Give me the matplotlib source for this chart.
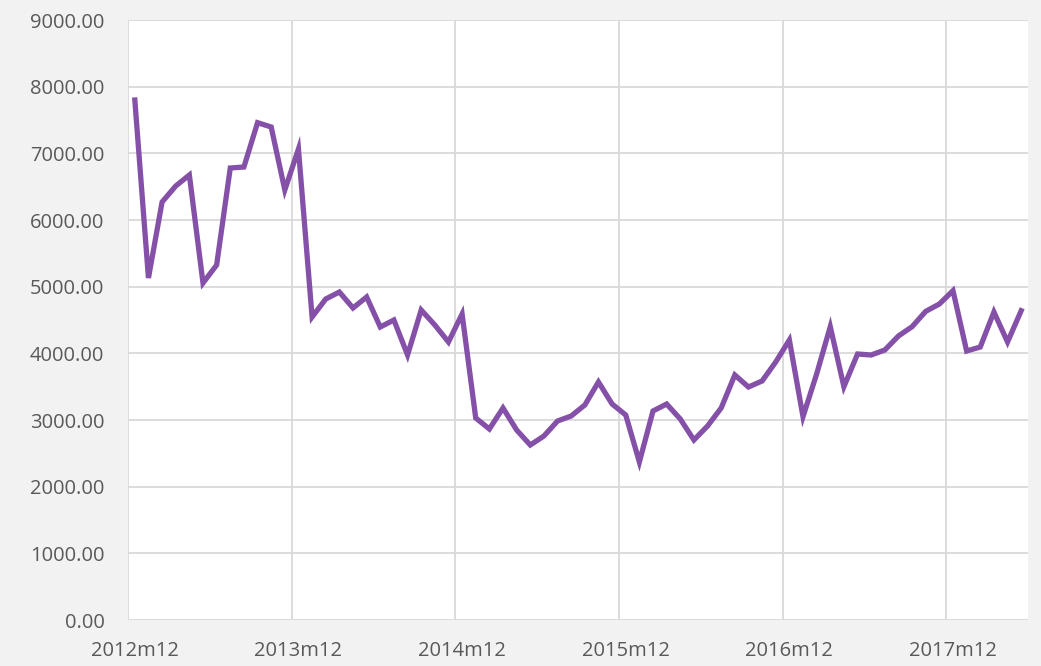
import numpy as np
import matplotlib.pyplot as plt

# Monthly values, 2012m12 .. 2018m05
values = [7800, 5130, 6270, 6510, 6675, 5055, 5325, 6780, 6795, 7460,
          7395, 6450, 7065, 4545, 4815, 4920, 4680, 4845, 4395, 4500,
          3975, 4650, 4425, 4170, 4590, 3030, 2865, 3180, 2850, 2625,
          2760, 2985, 3060, 3225, 3570, 3240, 3075, 2370, 3135, 3240,
          3015, 2700, 2910, 3180, 3675, 3495, 3585, 3870, 4200, 3050,
          3690, 4400, 3500, 3990, 3975, 4050, 4260, 4400, 4630, 4740,
          4940, 4035, 4095, 4620, 4170, 4640]
tick_labels = ['2012m12', '2013m12', '2014m12', '2015m12', '2016m12', '2017m12']
yticks = np.arange(0, 9001, 1000)

bg = '#f2f2f2'
grid = '#d9d9d9'
txt = '#595959'

fig = plt.figure(figsize=(10.41, 6.66), dpi=100, facecolor=bg)
ax = fig.add_axes([128/1041, 46/666, 900/1041, 600/666])
ax.set_facecolor('white')

x = np.arange(len(values)) + 0.5
ax.plot(x, values, color='#8551a8', lw=3.8, solid_joinstyle='miter', zorder=3)

ax.set_xlim(0, len(values))
ax.set_ylim(0, 9000)
# gridlines between categories, labels centred on the category
ax.set_xticks(np.arange(0, 12*len(tick_labels), 12))
ax.set_xticklabels([])
ax.set_xticks(np.arange(0, 12*len(tick_labels), 12) + 0.5, minor=True)
ax.set_xticklabels(tick_labels, minor=True)
ax.set_yticks(yticks)
ax.set_yticklabels(['%.2f' % v for v in yticks])

ax.grid(True, which='major', color=grid, lw=1.3, zorder=0)
ax.set_axisbelow(True)
for s in ax.spines.values():
    s.set_visible(False)
ax.tick_params(which='both', length=0, labelsize=14.5, labelcolor=txt)
ax.tick_params(axis='y', pad=17)
ax.tick_params(axis='x', which='both', pad=15)
for lab in ax.get_xticklabels(minor=True) + ax.get_yticklabels():
    lab.set_family('Open Sans')

fig.savefig('out.png', dpi=100, facecolor=bg)
